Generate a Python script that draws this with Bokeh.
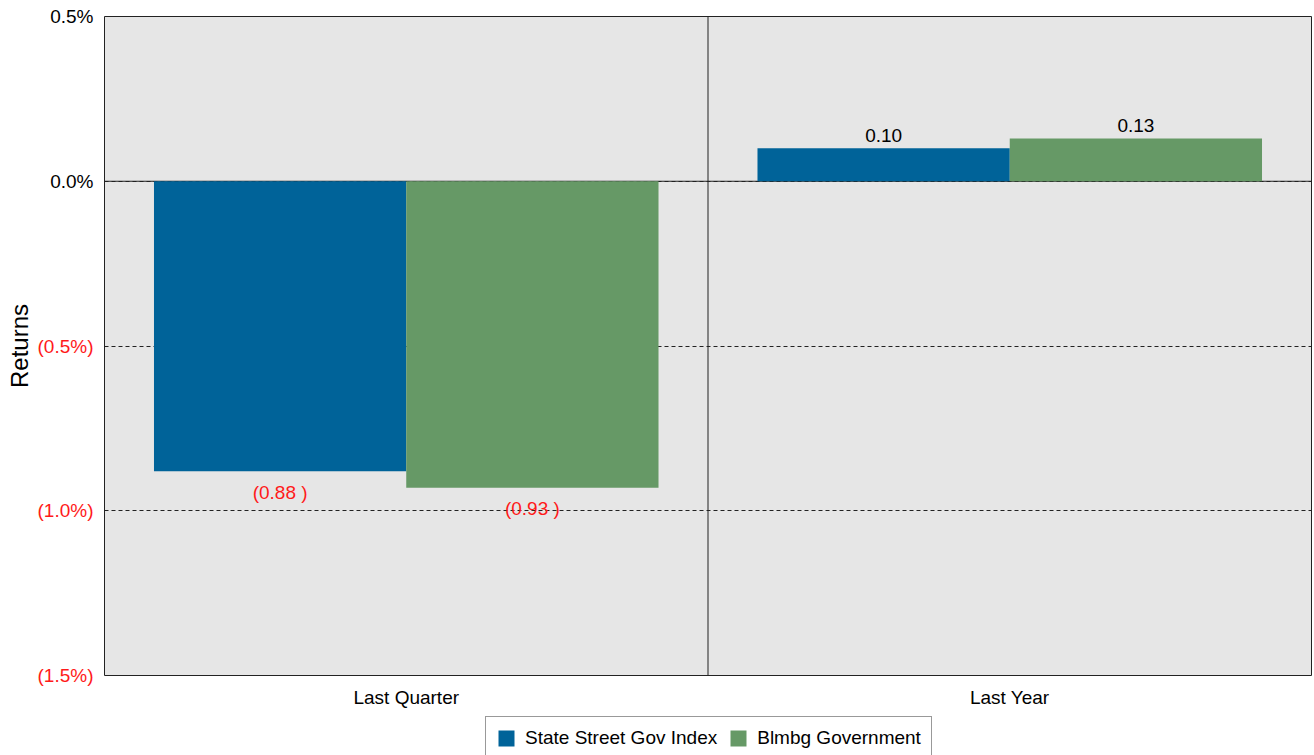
from bokeh.plotting import figure
from bokeh.models import (FactorRange, Range1d, FixedTicker, ColumnDataSource, LinearAxis,
                          Span, Legend, LegendItem)
from bokeh.layouts import column
from bokeh.transform import dodge
from bokeh.core.properties import value
from bokeh.embed import file_html
from bokeh.resources import INLINE

categories = ["Last Quarter", "Last Year"]
series_names = ["State Street Gov Index", "Blmbg Government"]
state_street = [-0.88, 0.10]
blmbg = [-0.93, 0.13]
y_ticks = [-1.5, -1.0, -0.5, 0.0, 0.5]
y_tick_labels = ["(1.5%)", "(1.0%)", "(0.5%)", "0.0%", "0.5%"]

BLUE = "#006399"
GREEN = "#669966"
RED = "#ff1a1a"
FONT = "Liberation Sans"
FS = "19px"


def fmt(v):
    return "(%.2f )" % abs(v) if v < 0 else "%.2f" % v


def key(t):
    return int(t) if float(t).is_integer() else t


p = figure(x_range=FactorRange(factors=categories, range_padding=0, factor_padding=0),
           y_range=Range1d(-1.5, 0.5), width=1312, height=716,
           output_backend="svg", toolbar_location=None,
           min_border_left=104, min_border_top=16, min_border_right=1, min_border_bottom=41)

p.background_fill_color = "#e6e6e6"
p.border_fill_color = "white"
p.outline_line_color = "#222222"
p.outline_line_width = 1

# grid
p.xgrid.grid_line_color = None
p.ygrid.ticker = FixedTicker(ticks=y_ticks)
p.ygrid.grid_line_color = "#222222"
p.ygrid.grid_line_dash = "4 3"
p.ygrid.grid_line_width = 1

p.add_layout(Span(location=0, dimension="width", line_color="#222222", line_width=1, level="underlay"))
p.add_layout(Span(location=1, dimension="height", line_color="#222222", line_width=1, level="underlay"))

src = ColumnDataSource(dict(cat=categories, ss=state_street, bl=blmbg))
w = 0.418
off = 0.209
r1 = p.vbar(x=dodge("cat", -off, range=p.x_range), top="ss", bottom=0, width=w, source=src,
            fill_color=BLUE, line_color=None)
r2 = p.vbar(x=dodge("cat", off, range=p.x_range), top="bl", bottom=0, width=w, source=src,
            fill_color=GREEN, line_color=None)

# value labels
for vals, o in ((state_street, -off), (blmbg, off)):
    ls = ColumnDataSource(dict(
        cat=categories, v=vals, t=[fmt(v) for v in vals],
        c=[RED if v < 0 else "black" for v in vals],
        yo=[21 if v < 0 else -13 for v in vals]))
    p.text(x=dodge("cat", o, range=p.x_range), y="v", text="t", y_offset="yo",
           text_color="c", text_align="center", text_baseline="middle",
           text_font=value(FONT), text_font_size=FS, source=ls)

# inner y axis: black (non-negative) labels
pos_over = {key(t): (lab if t >= 0 else "") for t, lab in zip(y_ticks, y_tick_labels)}
neg_over = {key(t): (lab if t < 0 else "") for t, lab in zip(y_ticks, y_tick_labels)}

ya = p.yaxis[0]
ya.ticker = FixedTicker(ticks=y_ticks)
ya.major_label_overrides = pos_over
ya.major_label_text_color = "black"
ya.major_label_text_font = FONT
ya.major_label_text_font_size = FS
ya.major_label_standoff = 11
ya.major_tick_out = 0
ya.major_tick_in = 0
ya.axis_line_color = None
ya.major_tick_line_color = None
ya.minor_tick_line_color = None

# outer y axis: red (negative) labels, pulled back to align with inner ones
ya2 = LinearAxis(ticker=FixedTicker(ticks=y_ticks), major_label_overrides=neg_over)
ya2.major_label_text_color = RED
ya2.major_label_text_font = FONT
ya2.major_label_text_font_size = FS
ya2.major_label_standoff = -46
ya2.major_tick_out = 0
ya2.major_tick_in = 0
ya2.axis_line_color = None
ya2.major_tick_line_color = None
ya2.minor_tick_line_color = None
ya2.axis_label = "Returns"
ya2.axis_label_text_font = FONT
ya2.axis_label_text_font_size = "24px"
ya2.axis_label_text_font_style = "normal"
ya2.axis_label_text_color = "black"
ya2.axis_label_text_line_height = 1.0
ya2.axis_label_standoff = 2
p.add_layout(ya2, "left")

p.xaxis.axis_line_color = None
p.xaxis.major_tick_line_color = None
p.xaxis.minor_tick_line_color = None
p.xaxis.major_tick_out = 0
p.xaxis.major_tick_in = 0
p.xaxis.major_label_text_font = FONT
p.xaxis.major_label_text_font_size = FS
p.xaxis.major_label_text_color = "black"
p.xaxis.major_label_standoff = 11

# legend strip
p2 = figure(width=1312, height=39, x_range=Range1d(0, 1), y_range=Range1d(0, 1),
            output_backend="svg", toolbar_location=None,
            min_border_left=0, min_border_right=0, min_border_top=0, min_border_bottom=0)
p2.axis.visible = False
p2.grid.visible = False
p2.outline_line_color = None
p2.border_fill_color = "white"
p2.background_fill_color = "white"
# legend-only renderers (kept outside the strip's visible range)
g1 = p2.rect(x=[-5], y=[-5], width=1, height=1, fill_color=BLUE, line_color=None)
g2 = p2.rect(x=[-5], y=[-5], width=1, height=1, fill_color=GREEN, line_color=None)

legend = Legend(items=[LegendItem(label=series_names[0], renderers=[g1]),
                       LegendItem(label=series_names[1], renderers=[g2])],
                orientation="horizontal", location=(381, -5))
legend.border_line_color = "#333333"
legend.border_line_width = 1
legend.background_fill_color = "white"
legend.background_fill_alpha = 1
legend.label_text_font = FONT
legend.label_text_font_size = FS
legend.label_text_color = "black"
legend.glyph_width = 20
legend.glyph_height = 20
legend.padding = 10
legend.spacing = 11
legend.label_standoff = 9
legend.margin = 0
p2.add_layout(legend, "center")

layout = column(p, p2, spacing=0)
open("out.html", "w").write(file_html(layout, INLINE))
